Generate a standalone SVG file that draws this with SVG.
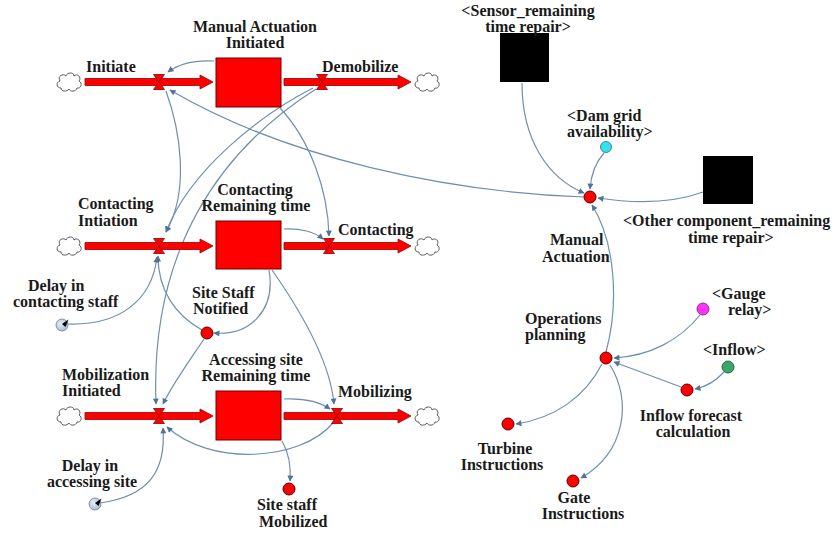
<svg xmlns="http://www.w3.org/2000/svg" width="838" height="535" viewBox="0 0 838 535">
  <style>
    .lbl { font-family: "Liberation Serif", "Times New Roman", serif; font-weight: bold; font-size: 16px; fill: #1a1a1a; }
    .mid { text-anchor: middle; }
    .pipe { fill: #ff0000; stroke: #9a0000; stroke-width: 0.8; }
    .stock { fill: #ff0000; stroke: #6a0000; stroke-width: 1; }
    .valve { fill: #ff0000; stroke: #8a0000; stroke-width: 0.8; }
    .cloud { fill: #ffffff; stroke: #5a5a5a; stroke-width: 1; }
    .aux { fill: #ff0000; stroke: #5a0000; stroke-width: 1; }
    .shadow { fill: #000000; }
    .link { fill: none; stroke: #6f8fae; stroke-width: 1.2; marker-end: url(#ah); }
  </style>
  <defs>
    <marker id="ah" viewBox="0 0 10 10" refX="9" refY="5" markerWidth="7" markerHeight="6" markerUnits="userSpaceOnUse" orient="auto">
      <path d="M0,0 L10,5 L0,10 Z" fill="#4d7399"/>
    </marker>
    <!-- flow pipe with arrowhead, 128 long, tip at x=128 -->
    <path id="pipe" class="pipe" d="M0,-3.5 H115 V-7 L128,0 L115,7 V3.5 H0 Z"/>
    <path id="valve" class="valve" d="M-5.5,-7.5 H5.5 L0,0 Z M-5.5,7.5 H5.5 L0,0 Z"/>
    <path id="cloud" class="cloud" d="M-8,6 C-13,6 -13,0 -9,-1 C-12,-6 -6,-9 -3,-6 C-2,-10 5,-10 5,-6 C8,-9 13,-5 10,-1 C14,1 12,7 8,6 C7,10 1,10 0,7 C-2,10 -8,10 -8,6 Z"/>
    <radialGradient id="shade" cx="0.4" cy="0.4" r="0.7">
      <stop offset="0" stop-color="#e8f0f8"/>
      <stop offset="1" stop-color="#9fb6cc"/>
    </radialGradient>
    <g id="lookup">
      <circle r="6" fill="url(#shade)" stroke="#6d7f90" stroke-width="0.8"/>
      <path d="M0,-1 L6.5,-5.5 L3.5,2 Z" fill="#000"/>
    </g>
  </defs>

  <!-- connectors -->
  <g id="connectors">
    <path class="link" d="M214,61 C195,60 180,63 168,72"/>
    <path class="link" d="M584,197 C450,192 290,160 170,90"/>
    <path class="link" d="M166,91 C180,130 190,190 166,232"/>
    <path class="link" d="M313,88 C260,115 190,170 166,232"/>
    <path class="link" d="M316,89 C220,150 150,250 156,404"/>
    <path class="link" d="M280,108 C310,140 328,190 329,236"/>
    <path class="link" d="M284,229 C300,228 315,232 323,239"/>
    <path class="link" d="M269,270 C276,310 250,336 214,333"/>
    <path class="link" d="M272,270 C300,310 330,360 334,404"/>
    <path class="link" d="M202,330 C175,315 158,290 158,256"/>
    <path class="link" d="M204,339 C190,360 172,385 163,404"/>
    <path class="link" d="M67,324 C120,326 152,300 157,257"/>
    <path class="link" d="M100,503 C150,496 166,470 163,428"/>
    <path class="link" d="M284,399 C305,398 320,402 330,409"/>
    <path class="link" d="M333,423 C300,462 210,466 167,427"/>
    <path class="link" d="M282,441 C290,455 291,468 290,481"/>
    <path class="link" d="M522,83 C522,140 548,178 584,193"/>
    <path class="link" d="M604,153 C596,162 591,175 590,189"/>
    <path class="link" d="M703,192 C670,204 630,203 598,198"/>
    <path class="link" d="M606,352 C620,300 614,240 592,205"/>
    <path class="link" d="M602,364 C585,397 555,418 516,424"/>
    <path class="link" d="M610,365 C632,400 626,452 581,478"/>
    <path class="link" d="M700,315 C680,340 650,356 614,358"/>
    <path class="link" d="M681,387 L614,362"/>
    <path class="link" d="M724,372 C715,382 705,387 695,389"/>
  </g>

  <!-- row 1: Manual Actuation Initiated -->
  <g id="row1">
    <use href="#cloud" x="69" y="82"/>
    <use href="#cloud" x="427" y="82"/>
    <use href="#pipe" x="85" y="82"/>
    <path class="pipe" d="M284,78.5 H398 V75 L411,82 L398,89 V85.5 H284 Z"/>
    <g id="initiate"><use href="#valve" x="159" y="82"/><text class="lbl" x="86" y="72">Initiate</text></g>
    <g id="demobilize"><use href="#valve" x="322" y="82"/><text class="lbl" x="322" y="72">Demobilize</text></g>
    <g id="manual-actuation-initiated">
      <rect class="stock" x="216" y="58" width="65" height="49"/>
      <text class="lbl mid" x="255" y="32">Manual Actuation</text>
      <text class="lbl mid" x="255" y="48">Initiated</text>
    </g>
  </g>

  <!-- row 2: Contacting Remaining time -->
  <g id="row2">
    <use href="#cloud" x="69" y="246"/>
    <use href="#cloud" x="427" y="246"/>
    <use href="#pipe" x="85" y="246"/>
    <path class="pipe" d="M284,242.5 H398 V239 L411,246 L398,253 V249.5 H284 Z"/>
    <g id="contacting-initiation"><use href="#valve" x="159" y="246"/>
      <text class="lbl" x="78" y="209">Contacting</text><text class="lbl" x="78" y="226">Intiation</text></g>
    <g id="contacting"><use href="#valve" x="329" y="246"/><text class="lbl" x="338" y="235">Contacting</text></g>
    <g id="contacting-remaining-time">
      <rect class="stock" x="216" y="221" width="65" height="48"/>
      <text class="lbl mid" x="255" y="195">Contacting</text>
      <text class="lbl mid" x="256" y="211">Remaining time</text>
    </g>
    <g id="delay-contacting"><use href="#lookup" x="62" y="325"/>
      <text class="lbl" x="28" y="291">Delay in</text><text class="lbl" x="13" y="307">contacting staff</text></g>
    <g id="site-staff-notified"><circle class="aux" cx="207" cy="333" r="6"/>
      <text class="lbl" x="192" y="298">Site Staff</text><text class="lbl" x="193" y="314">Notified</text></g>
  </g>

  <!-- row 3: Accessing site Remaining time -->
  <g id="row3">
    <use href="#cloud" x="69" y="416"/>
    <use href="#cloud" x="427" y="416"/>
    <use href="#pipe" x="85" y="416"/>
    <path class="pipe" d="M284,412.5 H398 V409 L411,416 L398,423 V419.5 H284 Z"/>
    <g id="mobilization-initiated"><use href="#valve" x="159" y="416"/>
      <text class="lbl" x="62" y="380">Mobilization</text><text class="lbl" x="62" y="396">Initiated</text></g>
    <g id="mobilizing"><use href="#valve" x="337" y="416"/><text class="lbl" x="338" y="397">Mobilizing</text></g>
    <g id="accessing-site-remaining-time">
      <rect class="stock" x="216" y="391" width="65" height="49"/>
      <text class="lbl mid" x="256" y="365">Accessing site</text>
      <text class="lbl mid" x="256" y="381">Remaining time</text>
    </g>
    <g id="delay-accessing"><use href="#lookup" x="95" y="504"/>
      <text class="lbl mid" x="90" y="471">Delay in</text><text class="lbl mid" x="92" y="487">accessing site</text></g>
    <g id="site-staff-mobilized"><circle class="aux" cx="289" cy="489" r="6"/>
      <text class="lbl" x="257" y="510">Site staff</text><text class="lbl" x="259" y="527">Mobilized</text></g>
  </g>

  <!-- operations side -->
  <g id="sensor-remaining-time-repair">
    <rect class="shadow" x="500" y="33" width="49" height="49"/>
    <text class="lbl mid" x="528" y="16">&lt;Sensor_remaining</text>
    <text class="lbl mid" x="528" y="32">time repair&gt;</text>
  </g>
  <g id="dam-grid-availability">
    <circle cx="606" cy="147" r="5.5" fill="#33e4ec" stroke="#2a6a70" stroke-width="0.8"/>
    <text class="lbl" x="567" y="121">&lt;Dam grid</text>
    <text class="lbl" x="567" y="137">availability&gt;</text>
  </g>
  <g id="other-component-remaining-time-repair">
    <rect class="shadow" x="703" y="156" width="50" height="48"/>
    <text class="lbl" x="623" y="226">&lt;Other component_remaining</text>
    <text class="lbl" x="688" y="243">time repair&gt;</text>
  </g>
  <g id="manual-actuation">
    <circle class="aux" cx="590" cy="197" r="6"/>
    <text class="lbl" x="550" y="245">Manual</text>
    <text class="lbl" x="542" y="262">Actuation</text>
  </g>
  <g id="operations-planning">
    <circle class="aux" cx="606" cy="358" r="6"/>
    <text class="lbl" x="525" y="324">Operations</text>
    <text class="lbl" x="525" y="340">planning</text>
  </g>
  <g id="gauge-relay">
    <circle cx="703" cy="309" r="6" fill="#ff33ff" stroke="#6a1a6a" stroke-width="0.8"/>
    <text class="lbl" x="712" y="299">&lt;Gauge</text>
    <text class="lbl" x="728" y="315">relay&gt;</text>
  </g>
  <g id="inflow">
    <circle cx="728" cy="367" r="6" fill="#3aa86a" stroke="#1a4a2a" stroke-width="0.8"/>
    <text class="lbl" x="703" y="355">&lt;Inflow&gt;</text>
  </g>
  <g id="inflow-forecast-calculation">
    <circle class="aux" cx="687" cy="390" r="6"/>
    <text class="lbl mid" x="691" y="421">Inflow forecast</text>
    <text class="lbl mid" x="693" y="437">calculation</text>
  </g>
  <g id="turbine-instructions">
    <circle class="aux" cx="508" cy="424" r="6"/>
    <text class="lbl mid" x="505" y="454">Turbine</text>
    <text class="lbl mid" x="502" y="470">Instructions</text>
  </g>
  <g id="gate-instructions">
    <circle class="aux" cx="573" cy="481" r="6"/>
    <text class="lbl mid" x="574" y="503">Gate</text>
    <text class="lbl mid" x="583" y="519">Instructions</text>
  </g>
</svg>
